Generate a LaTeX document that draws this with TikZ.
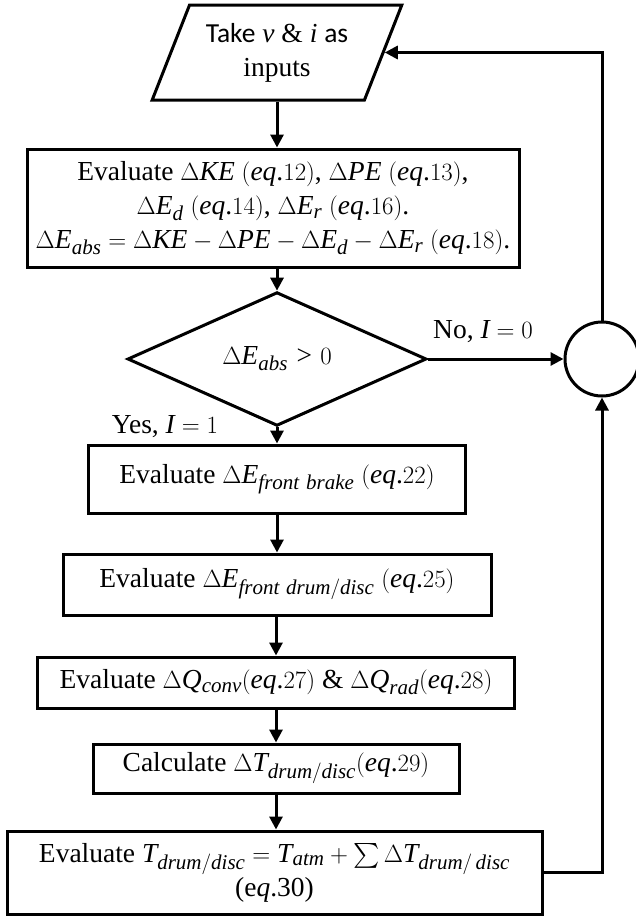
\documentclass[tikz,border=0pt]{standalone}
\usepackage{amsmath}
\usepackage{fontspec}
\setmainfont{Liberation Serif}
\newfontfamily\carlito{Carlito}
% math letters taken from the italic text face
\newfontfamily\mathletters[NFSSFamily=mlt]{Liberation Serif}
\DeclareSymbolFont{letters}{TU}{mlt}{m}{it}
\mathcode`.="002E
\mathcode`,="602C
\mathcode`/="002F
\DeclareMathSizes{27.5}{27.5}{21}{15}
\usetikzlibrary{shapes.geometric,arrows.meta,calc}

\begin{document}
\begin{tikzpicture}[x=1pt,y=-1pt,
  every node/.style={font=\fontsize{27.5}{34}\selectfont},
  stroke/.style={draw, line width=3pt},
  box/.style={stroke, rectangle, inner sep=0pt, align=center},
  flow/.style={line width=3pt, -{Triangle[length=13pt,width=13pt]}}]
\useasboundingbox (0,0) rectangle (635,916);

% input block
\node[stroke, trapezium, trapezium left angle=62.7, trapezium right angle=117.3,
      trapezium stretches=true, minimum width=250pt, minimum height=95pt,
      inner sep=0pt, align=center] (in) at (277,52.5)
  {{\carlito Take} $v$ \& $i$ {\carlito as}\\inputs};

% energy balance
\node[box, minimum width=492pt, minimum height=118pt] (ev) at (273,208)
  {Evaluate $\Delta KE$ $(eq.12)$, $\Delta PE$ $(eq.13)$,\\
   $\Delta E_d$ $(eq.14)$, $\Delta E_r$ $(eq.16)$.\\
   $\Delta E_{abs}=\Delta KE-\Delta PE-\Delta E_d-\Delta E_r$ $(eq.18)$.};

% decision
\node[stroke, diamond, minimum width=299pt, minimum height=112pt, inner sep=0pt]
  (dec) at (277,359) {$\Delta E_{abs}>0$};

% summing junction
\node[stroke, circle, minimum size=74pt, inner sep=0pt] (sum) at (602,359) {};

% branch labels
\node (no) at (483,332) {No, $I=0$};
\node (yes) at (165,427) {Yes, $I=1$};

% computation chain
\node[box, minimum width=377pt, minimum height=68pt] (b3) at (277,479)
  {Evaluate $\Delta E_{front\ brake}$ $(eq.22)$};
\node[box, minimum width=428pt, minimum height=61pt] (b4) at (277,584.5)
  {Evaluate $\Delta E_{front\ drum/disc}$ $(eq.25)$};
\node[box, minimum width=477pt, minimum height=51pt] (b5) at (276,682.5)
  {Evaluate $\Delta Q_{conv}(eq.27)$ \& $\Delta Q_{rad}(eq.28)$};
\node[box, minimum width=366pt, minimum height=49pt] (b6) at (276,768.5)
  {Calculate $\Delta T_{drum/disc}(eq.29)$};
\node[box, minimum width=535pt, minimum height=83pt] (b7) at (274.5,872.5)
  {Evaluate $T_{drum/disc}=T_{atm}+\sum\Delta T_{drum/\,disc}$\\(e$q$.30)};

% main flow
\draw[flow] (in.south) -- (in.south |- ev.north);
\draw[flow] (ev.south -| dec.north) -- (dec.north);
\draw[flow] (dec.south) -- (dec.south |- b3.north);
\draw[flow] (b3.south) -- (b3.south |- b4.north);
\draw[flow] (b4.south -| b5.north) -- (b5.north);
\draw[flow] (b5.south) -- (b5.south |- b6.north);
\draw[flow] (b6.south) -- (b6.south |- b7.north);

% feedback loop
\draw[flow] (dec.east) -- (sum.west);
\draw[flow] (sum.north) |- ($(in.top right corner)!0.5!(in.bottom right corner)$);
\draw[flow] (b7.east) -| (sum.south);
\end{tikzpicture}
\end{document}
